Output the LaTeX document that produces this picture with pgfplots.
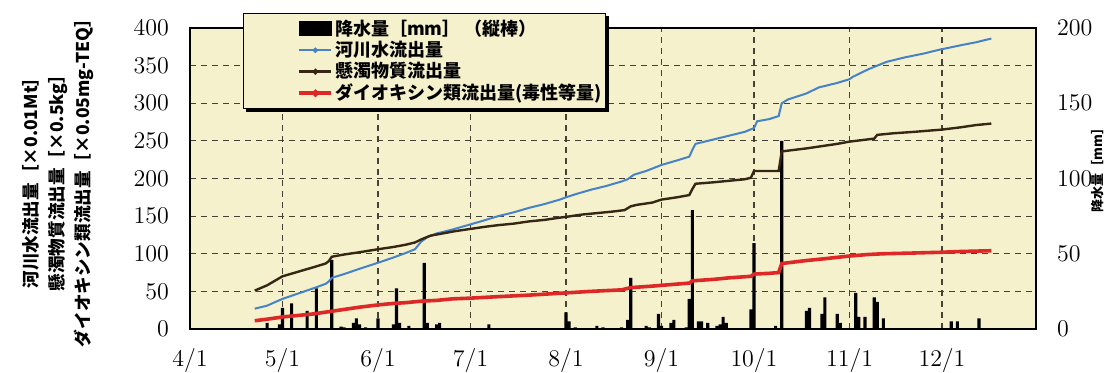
\documentclass[border=0pt]{standalone}
\usepackage{pgfplots}
\pgfplotsset{compat=1.18}
\usepackage{pgfplotstable}
\usepackage{fontspec}
\setmainfont{Noto Sans CJK JP}
\definecolor{bgc}{RGB}{245,241,204}
\definecolor{blueline}{RGB}{70,130,200}
\definecolor{ssline}{RGB}{55,38,20}
\definecolor{redline}{RGB}{222,40,40}
\definecolor{gridc}{RGB}{70,65,55}

\pgfplotstableread{
day mm
25 4
29 3
30 14
33 17
38 12
41 27
46 46
49 1.5
50 1
53 4
54 7
55 3
57 1
61 7
66 3
67 27
68 4
71 2
76 44
77 4
80 3
81 4
97 3
122 11
123 5
125 1
132 2
134 1
140 1
142 6
143 34
148 2
149 1
152 10
153 2
156 4
157 6
161 1
162 20
163 79
165 5
166 5
168 4
171 2
172 3
173 8
174 4
182 13
183 57
190 2
192 125
200 12
201 14
205 10
206 21
210 10
211 4
216 24
217 8
219 8
222 21
223 18
225 7
247 5
249 5
256 7
}\rain

\pgfplotstableread{
day v
21 27
25 31
30 40
35 47
40 54
44 60
45 63
46 68
50 73
55 80
61 88
66 95
70 101
73 106
75 116
77 122
80 127
85 132
91 139
96 145
100 150
105 155
110 161
115 166
120 172
122 175
125 179
130 185
135 190
140 196
142 199
144 205
148 210
153 218
158 224
162 229
163 238
164 246
170 252
175 257
180 262
183 267
184 276
188 279
191 283
192 300
194 305
200 313
204 321
210 327
214 332
215 335
220 345
226 355
232 361
238 366
243 371
250 377
255 381
260 386
}\river

\pgfplotstableread{
day v
21 51
25 58
30 70
35 76
40 82
44 87
45 90
46 96
50 99
55 102
61 106
66 109
70 112
73 115
75 119
78 124
82 127
86 130
91 133
96 136
100 138
105 140
110 143
115 145
120 148
122 149
127 152
132 154
137 156
141 158
143 163
145 165
150 168
153 172
158 175
162 178
163 186
164 193
170 195
175 197
180 199
182 201
183 210
188 210
191 210
192 236
196 238
200 240
205 243
210 246
214 249
218 251
222 253
223 258
228 260
235 262
244 265
250 268
255 271
260 273
}\ss

\pgfplotstableread{
day v
21 11
25 13
30 16
35 18
40 20
45 23
50 26
55 29
61 32
66 34
70 35
75 37
80 38
85 40
91 41
100 43
110 45
122 48
130 50
140 52
143 55
150 57
153 58
162 61
163 64
170 66
175 68
182 70
183 73
188 74
191 75
192 87
196 89
200 91
205 93
214 97
220 99
225 100
235 101
244 102
250 103
260 104
}\dxn

\begin{document}
\begin{tikzpicture}
\begin{axis}[name=main, scale only axis, width=423pt, height=150.5pt,
  xmin=0, xmax=274.5, ymin=0, ymax=200,
  axis background/.style={fill=bgc},
  xtick={0,30,61,91,122,153,183,214,244},
  xticklabels={$4/1$,$5/1$,$6/1$,$7/1$,$8/1$,$9/1$,$10/1$,$11/1$,$12/1$},
  ytick={0,50,100,150,200}, minor ytick={25,75,125,175},
  yticklabel pos=right,
  grid=both,
  major grid style={gridc, dash pattern=on 3pt off 2.5pt, line width=0.6pt},
  minor grid style={gridc, dash pattern=on 3pt off 2.5pt, line width=0.6pt},
  major tick length=0pt, minor tick length=0pt,
  axis line style={line width=0.7pt},
  ticklabel style={font=\fontsize{11.5}{13}\selectfont},
  xticklabel style={yshift=-6pt},
  yticklabel style={xshift=7pt},
  ylabel={降水量［mm］},
  ylabel style={font=\fontsize{6.5}{7}\selectfont\bfseries, at={(axis description cs:1.073,0.538)}, anchor=center},
]
\addplot[ybar, bar width=1, fill=black, draw=none] table[x=day,y=mm] {\rain};
\end{axis}
\begin{axis}[scale only axis, width=423pt, height=150.5pt,
  at={(main.south west)}, anchor=south west,
  xmin=0, xmax=274.5, ymin=0, ymax=400,
  hide x axis, axis y line*=left,
  ytick={0,50,...,400},
  major tick length=0pt,
  axis line style={line width=0.7pt},
  ticklabel style={font=\fontsize{11.5}{13}\selectfont},
  yticklabel style={xshift=-7pt},
  ylabel={河川水流出量［×0.01Mt］\\懸濁物質流出量［×0.5kg］\\ダイオキシン類流出量［×0.05mg-TEQ］},
  ylabel style={align=center, font=\fontsize{8.8}{13}\selectfont\bfseries, at={(axis description cs:-0.156,0.5)}, anchor=center},
  legend cell align=left,
  legend style={name=leg, at={(axis description cs:0.0627,1.05)}, anchor=north west, draw=black, line width=0.6pt, fill=bgc,
    font=\fontsize{9}{10.5}\selectfont\bfseries, row sep=-0.5pt, inner xsep=1pt, inner ysep=2pt,
    nodes={inner sep=1pt}},
  legend image code/.code={\path (-26pt,0pt); \draw[#1] (0pt,0pt) -- (16pt,0pt); \fill[#1] (8pt,0pt) circle[radius=0.8pt];},
]
\addlegendimage{legend image code/.code={\path (-26pt,0pt); \fill[black] (0pt,-3.5pt) rectangle (16pt,3.5pt);}}
\addlegendentry{降水量［mm］\ （縦棒）}
\addplot[blueline, line width=1pt] table[x=day,y=v] {\river};
\addlegendentry{河川水流出量}
\addplot[ssline, line width=1.2pt] table[x=day,y=v] {\ss};
\addlegendentry{懸濁物質流出量}
\addplot[redline, line width=1.8pt] table[x=day,y=v] {\dxn};
\addlegendentry{ダイオキシン類流出量(毒性等量)}
\end{axis}
\fill[black] ([xshift=1.5pt]leg.south west) rectangle ([xshift=1.5pt,yshift=-1.5pt]leg.south east);
\fill[black] ([yshift=-1.5pt]leg.north east) rectangle ([xshift=1.5pt,yshift=-1.5pt]leg.south east);
\pgfresetboundingbox
\path (main.south west) ++(-95pt,-22pt) rectangle ++(556pt,186.5pt);
\end{tikzpicture}
\end{document}
